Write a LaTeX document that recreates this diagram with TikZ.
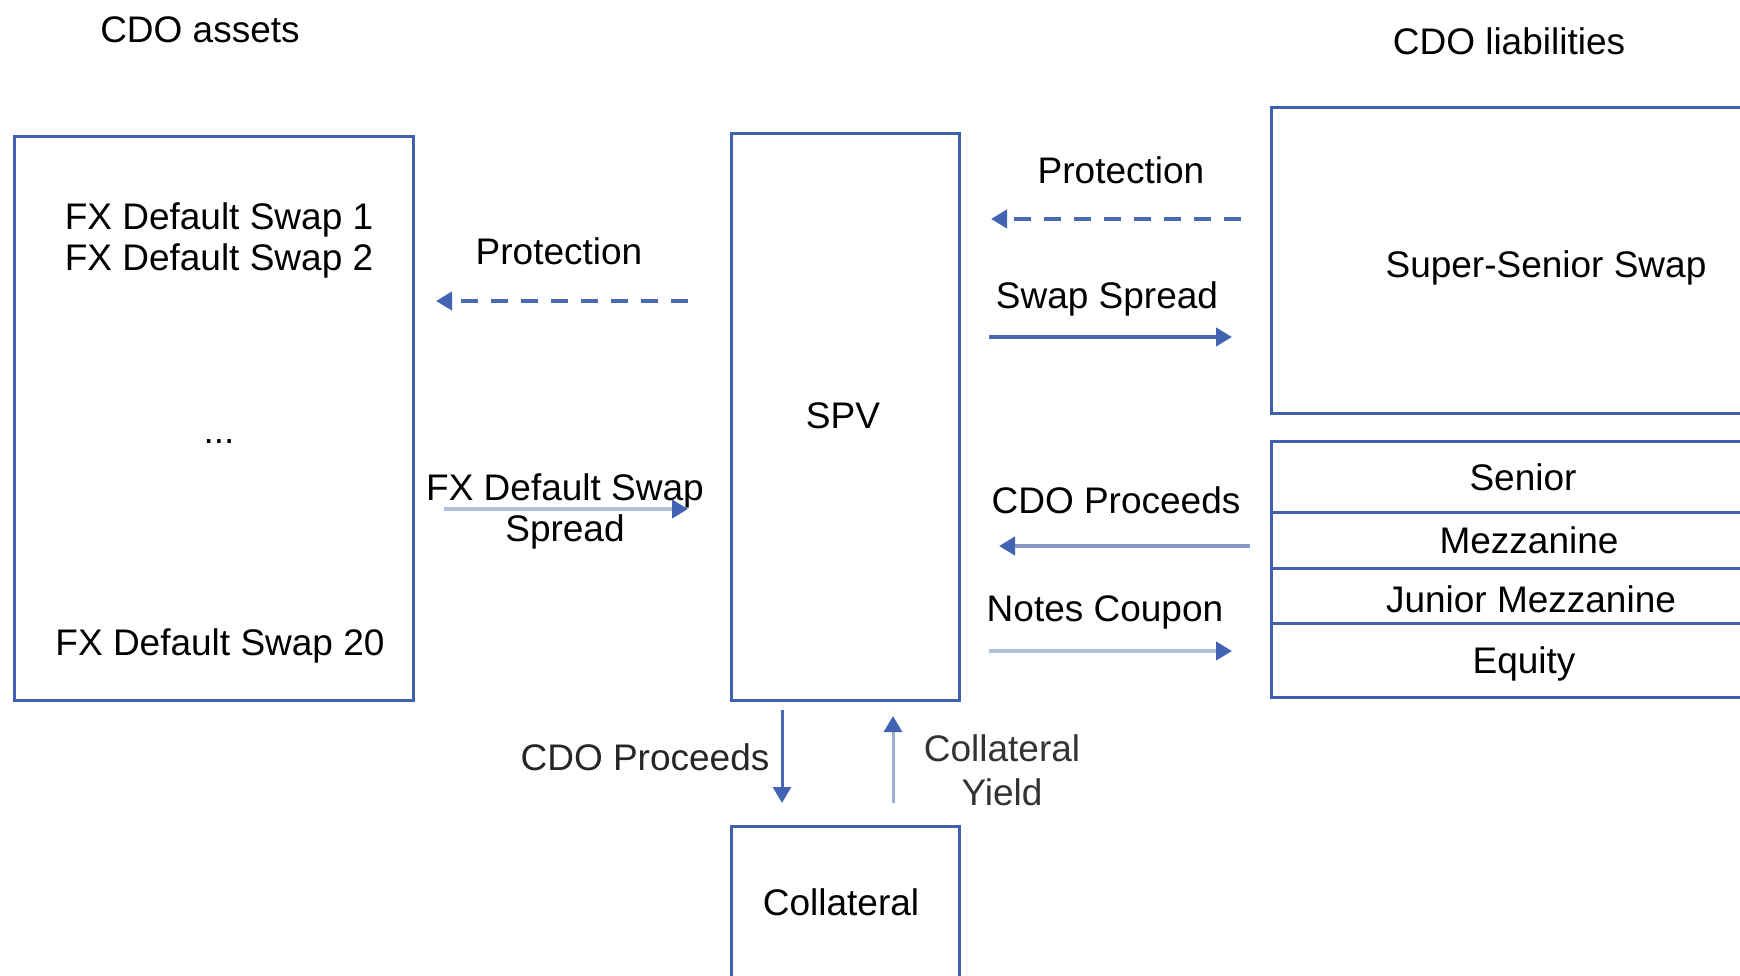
\documentclass[tikz,border=0pt]{standalone}
\usepackage{fontspec}
\setmainfont{Liberation Sans}
\usetikzlibrary{arrows.meta}
\definecolor{boxblue}{HTML}{3F5FAF}
\definecolor{headblue}{HTML}{4262B2}
\definecolor{midblue}{HTML}{4A68B5}
\definecolor{softblue}{HTML}{8797CA}
\definecolor{paleblue}{HTML}{B3BEDD}
\begin{document}
\begin{tikzpicture}[x=1pt,y=-1pt,
  box/.style={draw=boxblue, line width=3pt, inner sep=0pt},
  lbl/.style={font=\fontsize{37}{41}\selectfont, align=center, inner sep=0pt, text=black},
  flow/.style={line width=4pt, -{Triangle[length=16pt,width=18pt,color=headblue]}},
  thinflow/.style={line width=3pt, -{Triangle[length=16pt,width=18pt,color=headblue]}},
  dashflow/.style={flow, draw=midblue, dash pattern=on 17pt off 13pt}
]
\useasboundingbox (0,0) rectangle (1740,975);
\clip (0,0) rectangle (1740,975);

% boxes
\node[box, minimum width=399pt, minimum height=564pt] (assets) at (213.5,418) {};
\node[box, minimum width=228pt, minimum height=567pt] (spv) at (845,416.5) {};
\node[box, minimum width=489pt, minimum height=306pt] (sss) at (1515.5,260) {};
\node[box, minimum width=489pt, minimum height=71pt] (senior) at (1515.5,476.5) {};
\node[box, minimum width=489pt, minimum height=56pt] (mezz) at (1515.5,540) {};
\node[box, minimum width=489pt, minimum height=55pt] (jmezz) at (1515.5,595.5) {};
\node[box, minimum width=489pt, minimum height=74pt] (equity) at (1515.5,660) {};
\node[box, minimum width=228pt, minimum height=200pt] (coll) at (845,926) {};

% titles
\node[lbl] (tassets) at (200,30) {CDO assets};
\node[lbl] (tliab) at (1509,41) {CDO liabilities};

% box texts
\node[lbl] (fx12) at (219,240.5) {FX Default Swap 1\\FX Default Swap 2};
\node[lbl] (dots) at (219,442) {...};
\node[lbl] (fx20) at (220,645.5) {FX Default Swap 20};
\node[lbl] (spvt) at (843,416) {SPV};
\node[lbl] (sssT) at (1546,267.5) {Super-Senior Swap};
\node[lbl] (seniorT) at (1523,477) {Senior};
\node[lbl] (mezzT) at (1529,540) {Mezzanine};
\node[lbl] (jmezzT) at (1531,599) {Junior Mezzanine};
\node[lbl] (equityT) at (1524,663.5) {Equity};
\node[lbl] (collT) at (841,902) {Collateral};

% flow labels
\node[lbl] (protL) at (559,251) {Protection};
\node[lbl] (fxspr) at (565,511.5) {FX Default Swap\\Spread};
\node[lbl] (protR) at (1121,170) {Protection};
\node[lbl] (swspr) at (1107,298.5) {Swap Spread};
\node[lbl] (cdoR) at (1116,500) {CDO Proceeds};
\node[lbl] (notes) at (1105,612.5) {Notes Coupon};
\node[lbl, text=black!85] (cdoB) at (645,757) {CDO Proceeds};
\node[lbl, text=black!80, font=\fontsize{37}{44}\selectfont] (cyield) at (1002,770) {Collateral\\Yield};

% arrow end points
\coordinate (pL1) at (688,301); \coordinate (pL2) at (436,301);
\coordinate (sL1) at (444,509); \coordinate (sL2) at (688,509);
\coordinate (pR1) at (1241,219); \coordinate (pR2) at (991,219);
\coordinate (wR1) at (989,337); \coordinate (wR2) at (1232,337);
\coordinate (cR1) at (1250,546); \coordinate (cR2) at (999,546);
\coordinate (nR1) at (989,651); \coordinate (nR2) at (1232,651);
\coordinate (dB1) at (782,710); \coordinate (dB2) at (782,803);
\coordinate (uB1) at (893,803); \coordinate (uB2) at (893,716);

% arrows
\draw[dashflow] (pL1) -- (pL2);
\draw[flow, draw=paleblue] (sL1) -- (sL2);
\draw[dashflow] (pR1) -- (pR2);
\draw[flow, draw=midblue] (wR1) -- (wR2);
\draw[flow, draw=softblue] (cR1) -- (cR2);
\draw[flow, draw=paleblue] (nR1) -- (nR2);
\draw[thinflow, draw=midblue] (dB1) -- (dB2);
\draw[thinflow, draw=paleblue!80!midblue] (uB1) -- (uB2);
\end{tikzpicture}
\end{document}
